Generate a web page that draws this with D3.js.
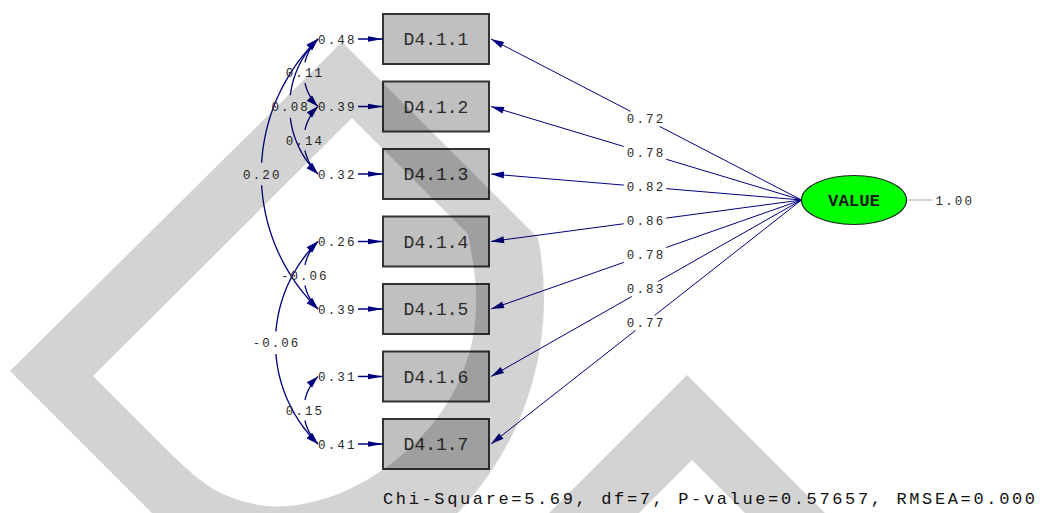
<!DOCTYPE html>
<html>
<head>
<meta charset="utf-8">
<script src="https://cdn.jsdelivr.net/npm/d3@7"></script>
<style>
  html, body { margin: 0; padding: 0; background: #fff; overflow: hidden; }
  svg { display: block; }
  text { font-family: "Liberation Mono", "DejaVu Sans Mono", monospace; }
</style>
</head>
<body>
<svg id="chart" width="1040" height="513"></svg>
<script>
// ---- model values -------------------------------------------------------
const indicators     = ["D4.1.1", "D4.1.2", "D4.1.3", "D4.1.4", "D4.1.5", "D4.1.6", "D4.1.7"];
const loadings       = [0.72, 0.78, 0.82, 0.86, 0.78, 0.83, 0.77];
const errorVariances = [0.48, 0.39, 0.32, 0.26, 0.39, 0.31, 0.41];

// correlated measurement errors
const covFrom   = ["D4.1.1", "D4.1.1", "D4.1.2", "D4.1.1", "D4.1.4", "D4.1.4", "D4.1.6"];
const covTo     = ["D4.1.2", "D4.1.3", "D4.1.3", "D4.1.5", "D4.1.5", "D4.1.7", "D4.1.7"];
const covValues = [0.11, 0.08, 0.14, 0.20, -0.06, -0.06, 0.15];

const latentName     = "VALUE";
const latentVariance = 1.00;

const fitNames  = ["Chi-Square", "df", "P-value", "RMSEA"];
const fitValues = ["5.69", "7", "0.57657", "0.000"];

// ---- drawing ------------------------------------------------------------
const svg = d3.select("#chart");
const W = 1040, H = 513;
const fmt = d3.formatLocale({decimal: ".", thousands: ",", grouping: [3], currency: ["", ""], minus: "-"}).format(".2f");

const NAVY = "#000080";
const y = d3.scalePoint().domain(indicators).range([39, 444]);

const box = {x: 383, w: 106, h: 50};
const errText = 318, errLineStart = 358;
const latent = {cx: 854, cy: 200, rx: 52.5, ry: 24.5};
const loadTipX = box.x + box.w + 2;
const loadLabelX = 645;
const charW = 9.1;

svg.append("rect").attr("width", W).attr("height", H).attr("fill", "#fff");

const gBoxes = svg.append("g");
const gLines = svg.append("g");
const gHeads = svg.append("g").attr("fill", NAVY);
const gText  = svg.append("g").attr("fill", "#2b2b2b").attr("font-size", 12.5);

function arrowHead(tip, ux, uy, len, half) {
  const bx = tip[0] - ux * len, by = tip[1] - uy * len;
  const nx = -uy, ny = ux;
  gHeads.append("path")
    .attr("d", `M${tip[0]},${tip[1]}L${bx + nx * half},${by + ny * half}L${bx - nx * half},${by - ny * half}Z`);
}

function numLabel(txt, x, yy, anchor) {
  gText.append("text")
    .attr("x", x).attr("y", yy).attr("dy", "0.36em")
    .attr("text-anchor", anchor || "middle")
    .attr("textLength", txt.length * charW)
    .text(txt);
}

// observed variable boxes
gBoxes.selectAll("rect")
  .data(indicators).join("rect")
  .attr("x", box.x).attr("y", d => y(d) - box.h / 2)
  .attr("width", box.w).attr("height", box.h)
  .attr("fill", "#c0c0c0").attr("stroke", "#333").attr("stroke-width", 2);

gBoxes.selectAll("text")
  .data(indicators).join("text")
  .attr("x", box.x + box.w / 2).attr("y", d => y(d)).attr("dy", "0.36em")
  .attr("text-anchor", "middle").attr("font-size", 18).attr("fill", "#2b2b2b")
  .text(d => d);

// error terms
indicators.forEach((name, i) => {
  const cy = y(name);
  gLines.append("line")
    .attr("x1", errLineStart).attr("x2", box.x).attr("y1", cy).attr("y2", cy)
    .attr("stroke", NAVY).attr("stroke-width", 1.5);
  arrowHead([box.x, cy], 1, 0, 15, 2.8);
  numLabel(fmt(errorVariances[i]), errText, cy, "start");
});

// factor loadings: line from the latent variable to each box, broken at its label
const origin = [latent.cx - latent.rx, latent.cy];
indicators.forEach((name, i) => {
  const tip = [loadTipX, y(name)];
  const dx = tip[0] - origin[0], dy = tip[1] - origin[1];
  const tm = (loadLabelX - origin[0]) / dx;
  const ym = origin[1] + dy * tm;
  const txt = fmt(loadings[i]);
  const hw = txt.length * charW / 2 + 3, hh = 7.5;
  const tg = Math.min(hw / Math.abs(dx), Math.abs(dy) > 0 ? hh / Math.abs(dy) : Infinity);
  const P = t => [origin[0] + dx * t, origin[1] + dy * t];
  [[0, tm - tg], [tm + tg, 1]].forEach(([a, b]) => {
    const p = P(a), q = P(b);
    gLines.append("line")
      .attr("x1", p[0]).attr("y1", p[1]).attr("x2", q[0]).attr("y2", q[1])
      .attr("stroke", NAVY).attr("stroke-width", 1);
  });
  const L = Math.hypot(dx, dy);
  arrowHead(tip, dx / L, dy / L, 13, 3.5);
  numLabel(txt, loadLabelX, ym);
});

// error covariances: double-headed circular arcs on the left of the error labels
const arcLine = d3.line();
covValues.forEach((v, i) => {
  const ya = y(covFrom[i]), yb = y(covTo[i]);
  const half = (yb - ya) / 2, s = 0.21 * (yb - ya);
  const R = (half * half + s * s) / (2 * s);
  const ym = (ya + yb) / 2;
  const x0 = errText;
  const cx = x0 - s + R;
  const tMax = Math.asin(half / R);
  const pt = t => [cx - R * Math.cos(t), ym + R * Math.sin(t)];
  const gap = 10;
  const N = 80;
  const upper = [], lower = [];
  for (let k = 0; k <= N; k++) {
    const t = -tMax + (2 * tMax) * k / N;
    const p = pt(t);
    if (p[1] < ym - gap) upper.push(p);
    else if (p[1] > ym + gap) lower.push(p);
  }
  [upper, lower].forEach(seg => {
    gLines.append("path").attr("d", arcLine(seg))
      .attr("fill", "none").attr("stroke", NAVY).attr("stroke-width", 1.3);
  });
  // arrowheads at both ends, along the tangent (d/dt = (R sin t, R cos t))
  [[-tMax, -1], [tMax, 1]].forEach(([t, sgn]) => {
    const p = pt(t);
    const ux = sgn * R * Math.sin(t), uy = sgn * R * Math.cos(t);
    const l = Math.hypot(ux, uy);
    arrowHead(p, ux / l, uy / l, 12, 3.8);
  });
  numLabel(fmt(v), cx - R, ym);
});

// latent variable
svg.append("ellipse")
  .attr("cx", latent.cx).attr("cy", latent.cy).attr("rx", latent.rx).attr("ry", latent.ry)
  .attr("fill", "#00ff00").attr("stroke", "#222").attr("stroke-width", 1.2);
svg.append("text")
  .attr("x", latent.cx).attr("y", latent.cy).attr("dy", "0.36em")
  .attr("text-anchor", "middle").attr("font-size", 17).attr("font-weight", "bold")
  .attr("fill", "#1a1a1a").attr("textLength", 52).attr("lengthAdjust", "spacingAndGlyphs")
  .text(latentName);
svg.append("line")
  .attr("x1", latent.cx + latent.rx + 1).attr("x2", latent.cx + latent.rx + 26)
  .attr("y1", latent.cy).attr("y2", latent.cy)
  .attr("stroke", "#aaa").attr("stroke-width", 1);
numLabel(fmt(latentVariance), latent.cx + latent.rx + 29, latent.cy, "start");

// fit statistics
svg.append("text")
  .attr("x", 383).attr("y", 503.5)
  .attr("font-size", 17).attr("fill", "#111")
  .attr("textLength", 652)
  .text(fitNames.map((n, i) => `${n}=${fitValues[i]}`).join(", "));

// background logo overlay (multiplied over the diagram)
const inner = d3.line().curve(d3.curveCatmullRom.alpha(0.5))([
  [170, 453], [215, 490], [267, 506], [320, 500], [370, 478],
  [418, 440], [452, 395], [472, 342], [476, 290], [468, 234]
]);
const logo = svg.append("g").attr("fill", "#000").attr("fill-opacity", 0.173).attr("fill-rule", "evenodd");
logo.append("path").attr("d",
  "M342,42L538,238A309,309 0 0,1 434,535L170,531L10,371Z" +
  "M352,118L93,376L" + inner.slice(1) + "Z");
logo.append("path").attr("d",
  "M687,375L527,535L847,535Z" +
  "M692,460L617,535L767,535Z");
</script>
</body>
</html>
